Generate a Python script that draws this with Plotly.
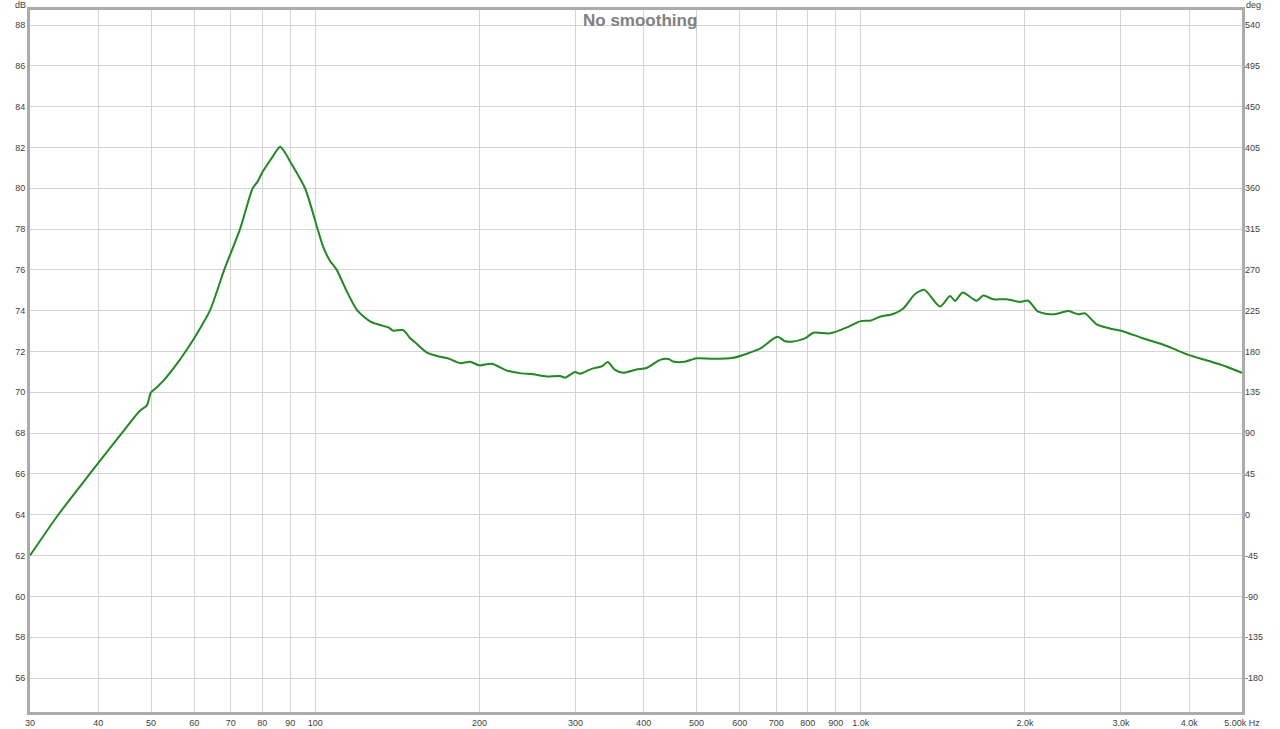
import plotly.graph_objects as go

# Frequency response data
freq_hz = [30, 33.8, 38.6, 44.2, 47.7, 49.1, 50, 51.2, 52.7, 56.5, 58.1, 60, 64.1, 68.1, 72.8,
           76.8, 78.3, 80, 82.6, 83.8, 86.2, 88.0, 90, 95.8, 101, 103.5, 106.4, 109.5, 114,
           119.5, 126, 131.4, 136.2, 139, 145, 149.2, 152.4, 160, 169.3, 175.4, 184.3, 192.2,
           200, 210.6, 224.4, 237.3, 251, 265.6, 281, 287, 299.4, 305.8, 321, 335, 343.8, 354,
           367, 388, 405, 428.7, 444, 453, 476, 500, 536.7, 584, 618, 655, 703, 727, 747, 790,
           818.7, 878.7, 949, 1000, 1040, 1084, 1147, 1197, 1258, 1308, 1330, 1398, 1458,
           1489, 1538, 1631, 1678, 1750, 1852, 1959, 2028, 2116, 2254, 2402, 2506, 2577,
           2707, 2863, 3000, 3297, 3537, 3795, 4000, 4368, 4686, 5000]
spl_db = [62.0, 64.0, 66.0, 68.0, 69.1, 69.35, 70.0, 70.24, 70.57, 71.6, 72.08, 72.65, 74.0,
          76.0, 78.0, 80.0, 80.3, 80.78, 81.35, 81.6, 82.03, 81.75, 81.3, 80.0, 78.0, 77.1,
          76.45, 76.0, 75.0, 74.0, 73.48, 73.30, 73.18, 73.02, 73.05, 72.66, 72.45, 71.96,
          71.74, 71.66, 71.43, 71.5, 71.32, 71.40, 71.07, 70.94, 70.88, 70.78, 70.80, 70.72,
          70.99, 70.91, 71.15, 71.27, 71.48, 71.11, 70.96, 71.12, 71.19, 71.59, 71.63, 71.51,
          71.50, 71.67, 71.64, 71.69, 71.89, 72.15, 72.72, 72.50, 72.48, 72.64, 72.92, 72.89,
          73.21, 73.49, 73.51, 73.70, 73.84, 74.11, 74.82, 75.02, 74.85, 74.20, 74.72, 74.48,
          74.89, 74.49, 74.74, 74.56, 74.56, 74.43, 74.49, 73.95, 73.82, 73.98, 73.82, 73.87,
          73.33, 73.13, 73.02, 72.64, 72.39, 72.07, 71.82, 71.52, 71.25, 70.95]

x_tickvals = [30, 40, 50, 60, 70, 80, 90, 100, 200, 300, 400, 500, 600, 700, 800, 900,
              1000, 2000, 3000, 4000, 5000]
x_ticktext = ["30", "40", "50", "60", "70", "80", "90", "100", "200", "300", "400", "500",
              "600", "700", "800", "900", "1.0k", "2.0k", "3.0k", "4.0k", "5.00k Hz"]
db_ticks = list(range(56, 89, 2))
deg_ticks = list(range(-180, 541, 45))

DB_MIN, DB_MAX = 54.334, 88.735
DEG_REF_DB, DEG_PER_DB = 64.0, 22.5

FRAME = "#ababab"
GRID = "#d4d4d4"
TXT = "#404040"
FONT = "Liberation Sans, Arial, sans-serif"

fig = go.Figure()
fig.add_trace(go.Scatter(
    x=freq_hz, y=spl_db, mode="lines",
    line=dict(color="#1f8a1f", width=2, shape="spline", smoothing=0.7),
    hoverinfo="skip", showlegend=False,
))
# invisible companion trace so the right-hand (deg) axis is drawn
fig.add_trace(go.Scatter(
    x=freq_hz, y=[(v - DEG_REF_DB) * DEG_PER_DB for v in spl_db], yaxis="y2",
    mode="lines", line=dict(width=0, color="rgba(0,0,0,0)"), opacity=0,
    hoverinfo="skip", showlegend=False,
))

fig.update_layout(
    width=1280, height=729,
    margin=dict(l=30, r=38, t=10, b=17, autoexpand=False),
    paper_bgcolor="white", plot_bgcolor="white",
    font=dict(family=FONT, size=9, color=TXT),
    showlegend=False,
    hovermode=False,
    xaxis=dict(
        type="log", range=[1.4771213, 3.69897],
        tickmode="array", tickvals=x_tickvals, ticktext=x_ticktext,
        showgrid=True, gridcolor=GRID, gridwidth=1,
        showline=True, linecolor=FRAME, linewidth=3, mirror=True,
        ticks="", ticklabelstandoff=0, zeroline=False, automargin=False,
        tickfont=dict(size=9, color=TXT),
    ),
    yaxis=dict(
        range=[DB_MIN, DB_MAX],
        tickmode="array", tickvals=db_ticks, ticktext=[str(v) for v in db_ticks],
        showgrid=True, gridcolor=GRID, gridwidth=1,
        showline=True, linecolor=FRAME, linewidth=3, mirror=True,
        ticks="", ticklabelstandoff=0, zeroline=False, automargin=False,
        tickfont=dict(size=9, color=TXT),
    ),
    yaxis2=dict(
        overlaying="y", side="right", anchor="x",
        range=[(DB_MIN - DEG_REF_DB) * DEG_PER_DB, (DB_MAX - DEG_REF_DB) * DEG_PER_DB],
        tickmode="array", tickvals=deg_ticks, ticktext=[str(v) for v in deg_ticks],
        showgrid=False, showline=False, zeroline=False, automargin=False,
        ticks="", ticklabelstandoff=2,
        tickfont=dict(size=9, color=TXT),
    ),
)

fig.add_annotation(text="No smoothing", xref="paper", yref="paper", x=0.5, y=1,
                   xshift=4, yshift=1, yanchor="top", showarrow=False,
                   font=dict(family=FONT, size=17, color="#808080", weight="bold"))
fig.add_annotation(text="dB", xref="paper", yref="paper", x=0, y=1, xshift=-2,
                   xanchor="right", yanchor="bottom", yshift=-2, showarrow=False,
                   font=dict(family=FONT, size=9, color=TXT))
fig.add_annotation(text="deg", xref="paper", yref="paper", x=1, y=1, xshift=2,
                   xanchor="left", yanchor="bottom", yshift=-2, showarrow=False,
                   font=dict(family=FONT, size=9, color=TXT))

# remove the default 8px page margin so the figure sits at the window's top-left corner
fig.write_html("out.html", config={"displayModeBar": False},
               post_script="document.body.style.margin='0';")
